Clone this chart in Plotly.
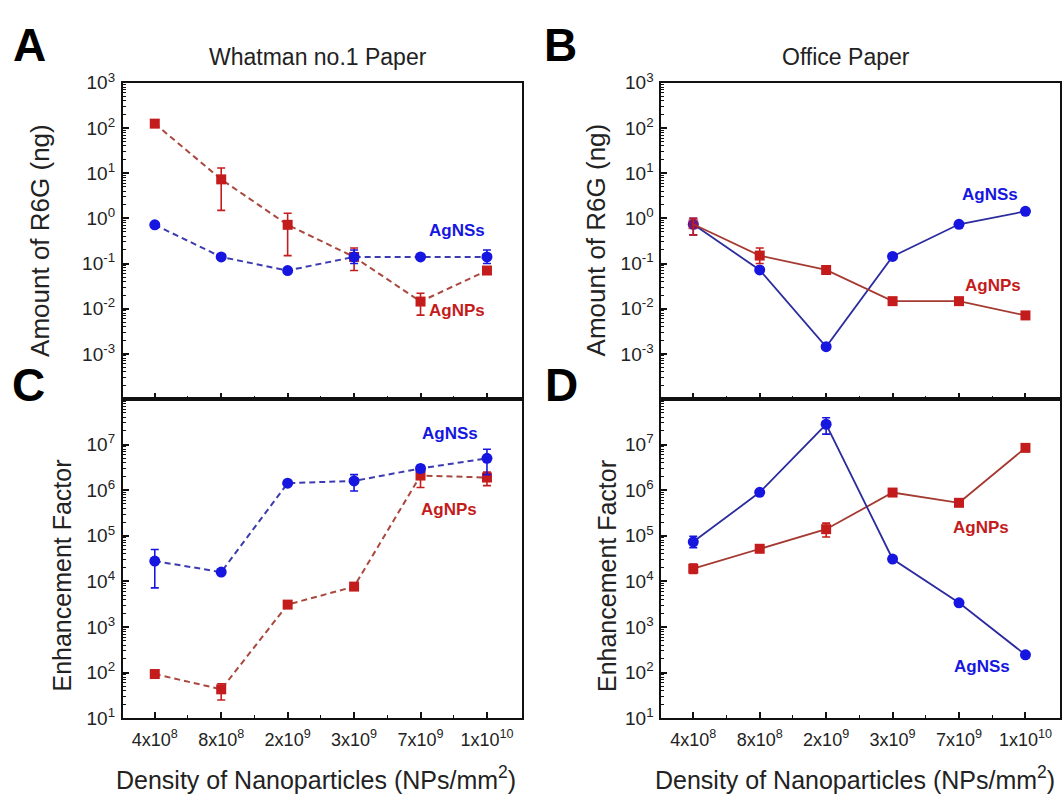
import plotly.graph_objects as go

# ---------------- data ----------------
categories = ["4x10<sup>8</sup>", "8x10<sup>8</sup>", "2x10<sup>9</sup>",
              "3x10<sup>9</sup>", "7x10<sup>9</sup>", "1x10<sup>10</sup>"]
xpos = [0, 1, 2, 3, 4, 5]

# Panel A: Whatman no.1 paper, amount of R6G (ng)
agnps_A = [125, 7.3, 0.72, 0.14, 0.0144, 0.07]
agnps_A_hi = [125, 13, 1.3, 0.22, 0.022, 0.07]
agnps_A_lo = [125, 1.5, 0.15, 0.07, 0.0072, 0.07]
agnss_A = [0.72, 0.14, 0.07, 0.14, 0.14, 0.14]
agnss_A_hi = [0.72, 0.14, 0.07, 0.2, 0.14, 0.2]
agnss_A_lo = [0.72, 0.14, 0.07, 0.1, 0.14, 0.1]

# Panel B: Office paper, amount of R6G (ng)
agnss_B = [0.74, 0.072, 0.00144, 0.144, 0.74, 1.43]
agnss_B_hi = [1.0, 0.072, 0.00144, 0.144, 0.74, 1.43]
agnss_B_lo = [0.43, 0.072, 0.00144, 0.144, 0.74, 1.43]
agnps_B = [0.74, 0.15, 0.072, 0.0147, 0.0147, 0.0071]
agnps_B_hi = [1.0, 0.22, 0.072, 0.0147, 0.017, 0.0071]
agnps_B_lo = [0.43, 0.1, 0.072, 0.0147, 0.012, 0.0071]

# Panel C: Whatman no.1 paper, enhancement factor
agnss_C = [2.8e4, 1.6e4, 1.43e6, 1.6e6, 3.0e6, 5.0e6]
agnss_C_hi = [5.0e4, 1.6e4, 1.43e6, 2.2e6, 3.5e6, 7.9e6]
agnss_C_lo = [7.2e3, 1.6e4, 1.43e6, 9.6e5, 2.5e6, 2.2e6]
agnps_C = [93, 43, 3.1e3, 7.7e3, 2.1e6, 1.9e6]
agnps_C_hi = [93, 57, 3.1e3, 9.0e3, 2.6e6, 2.5e6]
agnps_C_lo = [93, 25, 3.1e3, 6.5e3, 1.15e6, 1.26e6]

# Panel D: Office paper, enhancement factor
agnss_D = [7.4e4, 9.0e5, 2.8e7, 3.1e4, 3.4e3, 245]
agnss_D_hi = [9.8e4, 9.0e5, 3.9e7, 3.5e4, 3.8e3, 245]
agnss_D_lo = [5.5e4, 9.0e5, 1.7e7, 2.8e4, 3.0e3, 245]
agnps_D = [1.9e4, 5.2e4, 1.4e5, 8.9e5, 5.3e5, 8.5e6]
agnps_D_hi = [2.4e4, 5.2e4, 1.9e5, 8.9e5, 5.3e5, 8.5e6]
agnps_D_lo = [1.5e4, 5.2e4, 9.4e4, 8.9e5, 5.3e5, 8.5e6]

amount_exps = [-3, -2, -1, 0, 1, 2, 3]
ef_exps = [1, 2, 3, 4, 5, 6, 7]

# ---------------- styling ----------------
W, H = 1062, 800
FONT = "Liberation Sans, Arial, sans-serif"
BLUE_M = "#1616e0"
RED_M = "#c41c1c"
BLUE_DL = "#3c3cb0"
RED_DL = "#a8483e"
BLUE_SL = "#2c2c9e"
RED_SL = "#a43a32"


def px(x):
    return x / W


def py(y):
    return 1 - y / H


fig = go.Figure()


def add_series(xa, ya, y, hi, lo, color_m, color_l, symbol, dash, size, other=None):
    plus = [h - v for h, v in zip(hi, y)]
    minus = [v - l for l, v in zip(lo, y)]
    # where two series coincide, blend the markers (purple overlap in the original)
    opac = [0.55 if (other is not None and abs(a - b) < 1e-12) else 1.0
            for a, b in zip(y, other if other is not None else y)] if other is not None else 1.0
    fig.add_trace(go.Scatter(
        x=xpos, y=y, xaxis=xa, yaxis=ya, mode="lines+markers",
        line=dict(color=color_l, width=2 if dash != "solid" else 1.8, dash=dash),
        marker=dict(color=color_m, symbol=symbol, size=size, opacity=opac),
        error_y=dict(type="data", symmetric=False, array=plus, arrayminus=minus,
                     color=color_m, thickness=1.6, width=4),
        showlegend=False, cliponaxis=False,
    ))


DASH = "6px,4px"
# A
add_series("x", "y", agnps_A, agnps_A_hi, agnps_A_lo, RED_M, RED_DL, "square", DASH, 10)
add_series("x", "y", agnss_A, agnss_A_hi, agnss_A_lo, BLUE_M, BLUE_DL, "circle", DASH, 11)
# B
add_series("x2", "y2", agnss_B, agnss_B_hi, agnss_B_lo, BLUE_M, BLUE_SL, "circle", "solid", 11)
add_series("x2", "y2", agnps_B, agnps_B_hi, agnps_B_lo, RED_M, RED_SL, "square", "solid", 10,
           other=agnss_B)
# C
add_series("x3", "y3", agnps_C, agnps_C_hi, agnps_C_lo, RED_M, RED_DL, "square", DASH, 10)
add_series("x3", "y3", agnss_C, agnss_C_hi, agnss_C_lo, BLUE_M, BLUE_DL, "circle", DASH, 11)
# D
add_series("x4", "y4", agnps_D, agnps_D_hi, agnps_D_lo, RED_M, RED_SL, "square", "solid", 10)
add_series("x4", "y4", agnss_D, agnss_D_hi, agnss_D_lo, BLUE_M, BLUE_SL, "circle", "solid", 11)

xdomA = [px(123), px(522)]
xdomB = [px(662), px(1061)]
ydomTop = [py(398), py(72)]
ydomBot = [py(727), py(398)]


def xaxis(domain, anchor, labels):
    d = dict(
        domain=domain, anchor=anchor, range=[-0.48, 5.52],
        tickmode="array", tickvals=xpos,
        showticklabels=labels,
        ticks="inside", ticklen=6, tickwidth=1.5, tickcolor="#111",
        minor=dict(tickmode="array", tickvals=[0.5, 1.5, 2.5, 3.5, 4.5],
                   ticks="inside", ticklen=3, tickwidth=1.2, tickcolor="#111", showgrid=False),
        showline=True, linecolor="#111", linewidth=2, mirror=True,
        showgrid=False, zeroline=False,
        tickfont=dict(family=FONT, size=18, color="#222"),
        ticklabelstandoff=4,
    )
    if labels:
        d["ticktext"] = categories
    return d


def yaxis(domain, anchor, lrange, exps):
    minors = [k * 10 ** e for e in range(int(lrange[0]), int(lrange[1])) for k in range(2, 10)]
    return dict(
        domain=domain, anchor=anchor, type="log", range=lrange,
        tickmode="array", tickvals=[10 ** e for e in exps],
        ticktext=["10<sup>%d</sup>" % e for e in exps],
        ticks="inside", ticklen=6, tickwidth=1.5, tickcolor="#111",
        minor=dict(tickmode="array", tickvals=minors, ticks="inside", ticklen=3,
                   tickwidth=1, tickcolor="#111", showgrid=False),
        showline=True, linecolor="#111", linewidth=2, mirror=True,
        showgrid=False, zeroline=False,
        tickfont=dict(family=FONT, size=19, color="#222"),
        ticklabelstandoff=2,
    )


fig.update_layout(
    width=W, height=H, margin=dict(l=0, r=0, t=0, b=0),
    paper_bgcolor="white", plot_bgcolor="white",
    xaxis=xaxis(xdomA, "y", False),
    yaxis=yaxis(ydomTop, "x", [-4, 3], amount_exps),
    xaxis2=xaxis(xdomB, "y2", False),
    yaxis2=yaxis(ydomTop, "x2", [-4, 3], amount_exps),
    xaxis3=xaxis(xdomA, "y3", True),
    yaxis3=yaxis(ydomBot, "x3", [1, 8], ef_exps),
    xaxis4=xaxis(xdomB, "y4", True),
    yaxis4=yaxis(ydomBot, "x4", [1, 8], ef_exps),
)

ann = []


def text(x, y, s, size, color="#111", bold=False, angle=0, xanchor="center"):
    ann.append(dict(x=px(x), y=py(y), xref="paper", yref="paper", text=s,
                    showarrow=False, textangle=angle, xanchor=xanchor, yanchor="middle",
                    font=dict(family=FONT, size=size, color=color,
                              weight="bold" if bold else "normal")))


# panel letters
for letter, (x, y) in zip("ABCD", [(30, 33), (561, 33), (29, 383), (562, 383)]):
    text(x, y, letter, 46, "#000", True)
# titles
text(318, 45, "Whatman no.1 Paper", 23, "#222")
text(847, 45, "Office Paper", 23, "#222")
# y titles
text(40, 234, "Amount of R6G (ng)", 26, "#222", angle=-90)
text(597, 234, "Amount of R6G (ng)", 26, "#222", angle=-90)
text(62, 580, "Enhancement Factor", 25, "#222", angle=-90)
text(607, 580, "Enhancement Factor", 25, "#222", angle=-90)
# x titles
text(316, 789, "Density of Nanoparticles (NPs/mm<sup>2</sup>)", 25, "#222")
text(856, 789, "Density of Nanoparticles (NPs/mm<sup>2</sup>)", 25, "#222")
# series labels
text(457, 224, "AgNSs", 17, BLUE_M, True)
text(457, 307, "AgNPs", 17, RED_M, True)
text(991, 187, "AgNSs", 17, BLUE_M, True)
text(994, 281, "AgNPs", 17, RED_M, True)
text(450, 433, "AgNSs", 17, BLUE_M, True)
text(449, 512, "AgNPs", 17, RED_M, True)
text(982, 530, "AgNPs", 17, RED_M, True)
text(983, 674, "AgNSs", 17, BLUE_M, True)

fig.update_layout(annotations=ann)
fig.write_html("out.html")
